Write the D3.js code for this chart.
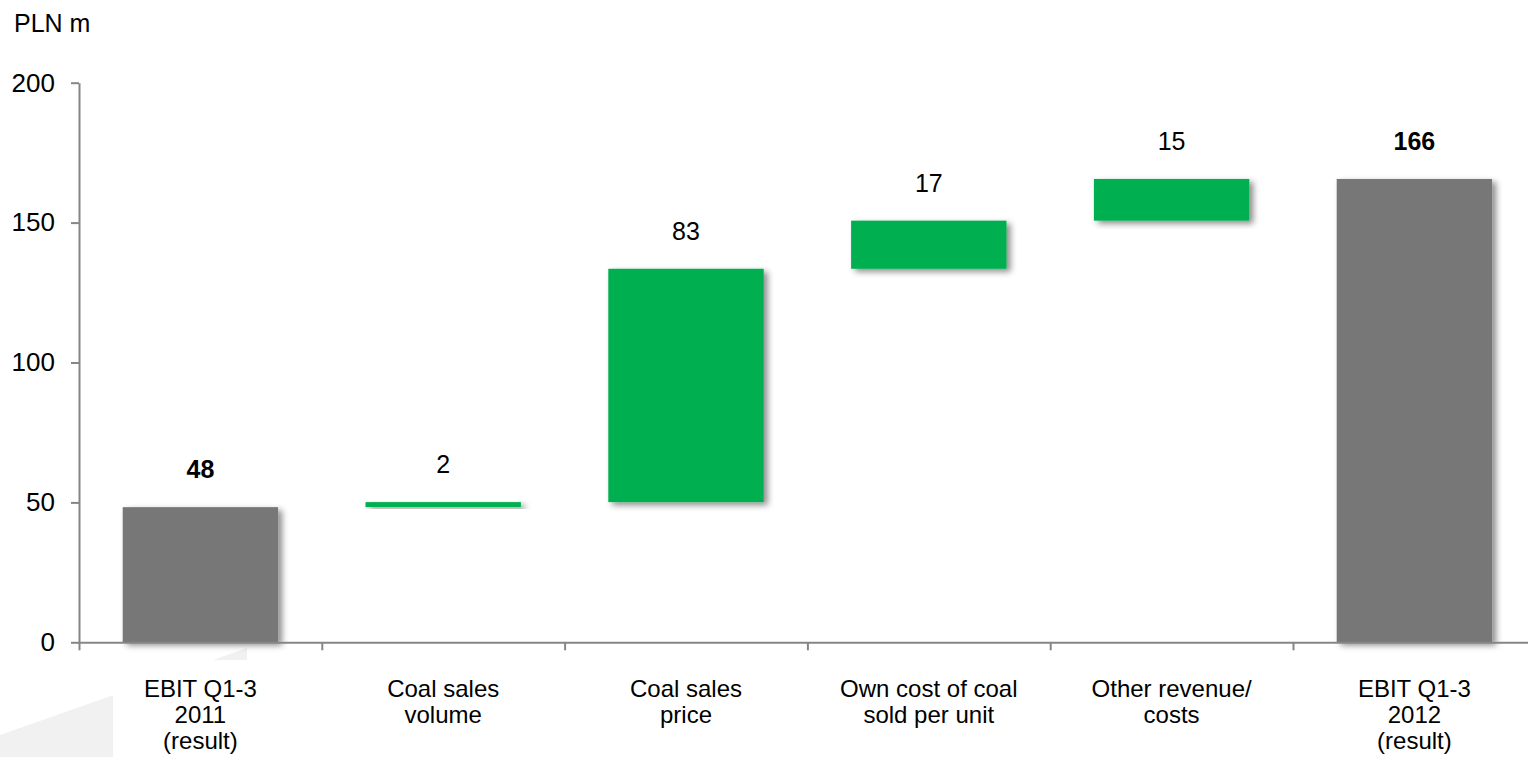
<!DOCTYPE html>
<html>
<head>
<meta charset="utf-8">
<script src="https://cdn.jsdelivr.net/npm/d3@7"></script>
<style>
	html, body { margin: 0; padding: 0; background: #fff; }
	svg { display: block; font-family: "Liberation Sans", Arial, sans-serif; }
</style>
</head>
<body>
<svg id="chart" width="1528" height="757"></svg>
<script>
// waterfall: EBIT Q1-3 2011 -> 2012, PLN m
const categories = [
	["EBIT Q1-3", "2011", "(result)"],
	["Coal sales", "volume"],
	["Coal sales", "price"],
	["Own cost of coal", "sold per unit"],
	["Other revenue/", "costs"],
	["EBIT Q1-3", "2012", "(result)"]
];
const startValue = 48.3;
const deltas = [1.8, 83.4, 17.2, 14.9];
const yTicks = [0, 50, 100, 150, 200];
const unitLabel = "PLN m";

const W = 1528, H = 757;
const GREY = "#777777", GREEN = "#00af50", AXIS = "#868686";

// build the steps from the values
const steps = [];
let run = startValue;
steps.push({ lo: 0, hi: startValue, v: startValue, total: true });
for (let d of deltas) {
	steps.push({ lo: run, hi: run + d, v: d, total: false });
	run += d;
}
steps.push({ lo: 0, hi: run, v: run, total: true });

const fmt = d3.format(".0f");

const svg = d3.select("#chart");

const y = d3.scaleLinear()
	.domain([0, 200])
	.range([642.3, 82.7]);

// index scale for band boundaries, band scale for the bars
const xi = d3.scaleLinear()
	.domain([0, categories.length])
	.range([79, 79 + 242.8 * categories.length]);

const x = d3.scaleBand()
	.domain(d3.range(categories.length))
	.range(xi.range())
	.paddingInner(0.36)
	.paddingOuter(0.18);

const defs = svg.append('defs');
defs.append('filter')
	.attr('id', 'shadow')
	.attr('x', '-10%').attr('y', '-10%')
	.attr('width', '130%').attr('height', '130%')
	.append('feDropShadow')
	.attr('dx', 4).attr('dy', 3)
	.attr('stdDeviation', 3)
	.attr('flood-color', '#000')
	.attr('flood-opacity', 0.45);

// faint decorative wedge, bottom left
svg.append('path')
	.attr('d', 'M0,735 L247,648 L247,757 L0,757 Z')
	.attr('fill', '#f1f1f1');
svg.append('rect')
	.attr('x', 113).attr('y', 660)
	.attr('width', W - 113).attr('height', H - 660)
	.attr('fill', '#fff');

svg.append('text')
	.attr('x', 14).attr('y', 32)
	.attr('font-size', 25)
	.text(unitLabel);

// bars
svg.append('g')
	.selectAll('rect')
	.data(steps)
	.enter().append('rect')
	.attr('x', (d, i) => x(i))
	.attr('width', x.bandwidth())
	.attr('y', d => y(Math.max(d.lo, d.hi)))
	.attr('height', d => Math.abs(y(d.lo) - y(d.hi)))
	.attr('fill', d => d.total ? GREY : GREEN)
	.attr('filter', 'url(#shadow)');

// value labels
svg.append('g')
	.selectAll('text')
	.data(steps)
	.enter().append('text')
	.attr('x', (d, i) => x(i) + x.bandwidth() / 2)
	.attr('y', d => y(Math.max(d.lo, d.hi)) - 29)
	.attr('text-anchor', 'middle')
	.attr('font-size', 25)
	.attr('font-weight', d => d.total ? 'bold' : 'normal')
	.text(d => fmt(d.v));

// y axis
const gy = svg.append('g')
	.attr('transform', `translate(${xi(0)},0)`)
	.call(d3.axisLeft(y).tickValues(yTicks).tickSize(8).tickSizeOuter(0).tickPadding(16));

// x axis, ticks on band boundaries
const gx = svg.append('g')
	.attr('transform', `translate(0,${y(0)})`)
	.call(d3.axisBottom(xi).tickValues(d3.range(categories.length + 1)).tickSize(8).tickSizeOuter(0).tickFormat(''));

for (let g of [gx, gy]) {
	g.select('.domain').attr('stroke', AXIS).attr('stroke-width', 2);
	g.selectAll('.tick line').attr('stroke', AXIS).attr('stroke-width', 2);
}
gy.selectAll('.tick text')
	.attr('font-size', 26)
	.attr('font-family', '"Liberation Sans", Arial, sans-serif')
	.attr('fill', '#000');

// category labels
const cat = svg.append('g')
	.selectAll('text')
	.data(categories)
	.enter().append('text')
	.attr('text-anchor', 'middle')
	.attr('font-size', 24)
	.attr('transform', (d, i) => `translate(${xi(i + 0.5)},${y(0) + 55})`);

cat.selectAll('tspan')
	.data(d => d)
	.enter().append('tspan')
	.attr('x', 0)
	.attr('y', (d, i) => i * 26)
	.text(d => d);
</script>
</body>
</html>
